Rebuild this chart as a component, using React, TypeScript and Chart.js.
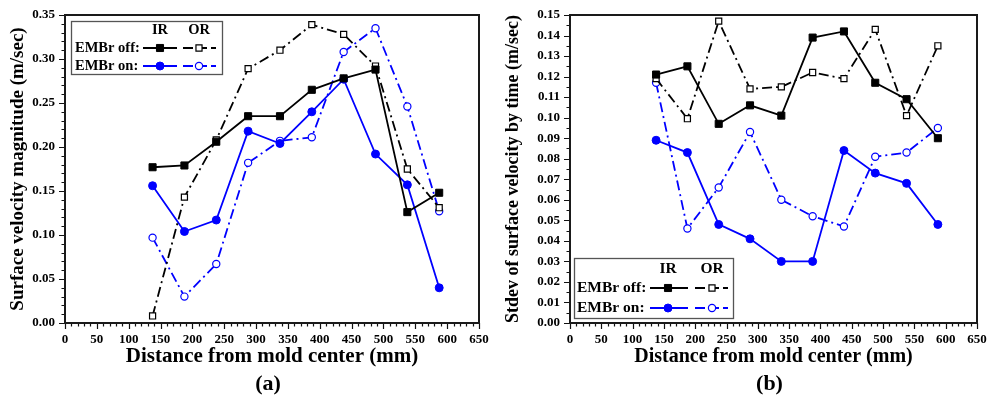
import React, { useEffect, useRef } from 'react';
import { Chart, registerables } from 'chart.js';

Chart.register(...registerables);

// ---------- data ----------
const distance = [137.5, 187.5, 237.5, 287.5, 337.5, 387.5, 437.5, 487.5, 537.5, 587.5];

// (a) Surface velocity magnitude (m/sec)
const velOffIR = [0.177, 0.179, 0.206, 0.235, 0.235, 0.265, 0.278, 0.288, 0.126, 0.148];
const velOffOR = [0.008, 0.143, 0.208, 0.289, 0.310, 0.339, 0.328, 0.292, 0.175, 0.131];
const velOnIR = [0.156, 0.104, 0.117, 0.218, 0.204, 0.240, 0.277, 0.192, 0.157, 0.040];
const velOnOR = [0.097, 0.030, 0.067, 0.182, 0.207, 0.211, 0.308, 0.335, 0.246, 0.127];

// (b) Stdev of surface velocity by time (m/sec)
const sdOffIR = [0.121, 0.125, 0.097, 0.106, 0.101, 0.139, 0.142, 0.117, 0.109, 0.090];
const sdOffOR = [0.119, 0.0995, 0.147, 0.114, 0.115, 0.122, 0.119, 0.143, 0.101, 0.135];
const sdOnIR = [0.089, 0.083, 0.048, 0.041, 0.030, 0.030, 0.084, 0.073, 0.068, 0.048];
const sdOnOR = [0.117, 0.046, 0.066, 0.093, 0.060, 0.052, 0.047, 0.081, 0.083, 0.095];

const legendHeader = ['IR', 'OR'];
const legendRows = ['EMBr off:', 'EMBr on:'];
const xTitle = 'Distance from mold center (mm)';
const yTitleA = 'Surface velocity magnitude (m/sec)';
const yTitleB = 'Stdev of surface velocity by time (m/sec)';

// ---------- styles ----------
const FONT = "'Liberation Serif', 'Times New Roman', Times, serif";
const BLACK = '#000000';
const BLUE = '#0000ff';
const DASHDOT = [10, 4, 2, 4];

function buildDatasets(offIR: number[], offOR: number[], onIR: number[], onOR: number[]) {
  const pts = (arr: number[]) => distance.map((x, i) => ({ x, y: arr[i] }));
  return [
    {
      label: 'EMBr off IR', data: pts(offIR), borderColor: BLACK, borderWidth: 1.8,
      pointStyle: 'rect', pointRadius: 5, pointBackgroundColor: BLACK, pointBorderColor: BLACK,
      pointBorderWidth: 1, tension: 0,
    },
    {
      label: 'EMBr off OR', data: pts(offOR), borderColor: BLACK, borderWidth: 1.8, borderDash: DASHDOT,
      pointStyle: 'rect', pointRadius: 4.3, pointBackgroundColor: '#ffffff', pointBorderColor: BLACK,
      pointBorderWidth: 1.2, tension: 0,
    },
    {
      label: 'EMBr on IR', data: pts(onIR), borderColor: BLUE, borderWidth: 1.8,
      pointStyle: 'circle', pointRadius: 4, pointBackgroundColor: BLUE, pointBorderColor: BLUE,
      pointBorderWidth: 1, tension: 0,
    },
    {
      label: 'EMBr on OR', data: pts(onOR), borderColor: BLUE, borderWidth: 1.8, borderDash: DASHDOT,
      pointStyle: 'circle', pointRadius: 3.6, pointBackgroundColor: '#ffffff', pointBorderColor: BLUE,
      pointBorderWidth: 1.2, tension: 0,
    },
  ];
}

// ---------- plugins ----------
const frameTicks = {
  id: 'frameTicks',
  afterDraw(chart: any, _args: any, opts: any) {
    const { ctx, chartArea, scales } = chart;
    const { left, right, top, bottom } = chartArea;
    const x = scales.x;
    const y = scales.y;
    ctx.save();
    ctx.strokeStyle = '#111111';
    ctx.lineWidth = 1.2;
    const isMajor = (v: number, step: number) => Math.abs(v / step - Math.round(v / step)) < 1e-6;
    ctx.beginPath();
    const nx = Math.round((x.max - x.min) / opts.xMinor);
    for (let i = 0; i <= nx; i++) {
      const v = x.min + i * opts.xMinor;
      const px = Math.round(x.getPixelForValue(v)) + 0.5;
      const len = isMajor(v, opts.xMajor) ? 6 : 3.5;
      ctx.moveTo(px, bottom);
      ctx.lineTo(px, bottom + len);
    }
    const ny = Math.round((y.max - y.min) / opts.yMinor);
    for (let i = 0; i <= ny; i++) {
      const v = y.min + i * opts.yMinor;
      const py = Math.round(y.getPixelForValue(v)) + 0.5;
      const len = isMajor(v, opts.yMajor) ? 6 : 3.5;
      ctx.moveTo(left, py);
      ctx.lineTo(left - len, py);
    }
    ctx.stroke();
    ctx.lineWidth = 2;
    ctx.strokeStyle = '#1a1a1a';
    ctx.strokeRect(left, top, right - left, bottom - top);
    ctx.restore();
  },
};

function drawMarker(ctx: CanvasRenderingContext2D, ds: any, cx: number, cy: number) {
  ctx.save();
  ctx.setLineDash([]);
  ctx.fillStyle = ds.pointBackgroundColor;
  ctx.strokeStyle = ds.pointBorderColor;
  ctx.lineWidth = ds.pointBorderWidth;
  ctx.beginPath();
  if (ds.pointStyle === 'rect') {
    const s = Math.SQRT1_2 * ds.pointRadius;
    ctx.rect(cx - s, cy - s, 2 * s, 2 * s);
  } else {
    ctx.arc(cx, cy, ds.pointRadius, 0, Math.PI * 2);
  }
  ctx.fill();
  ctx.stroke();
  ctx.restore();
}

const tableLegend = {
  id: 'tableLegend',
  afterDraw(chart: any, _args: any, o: any) {
    const { ctx } = chart;
    const ds = chart.data.datasets;
    ctx.save();
    ctx.fillStyle = '#ffffff';
    ctx.fillRect(o.box[0], o.box[1], o.box[2], o.box[3]);
    ctx.strokeStyle = '#555555';
    ctx.lineWidth = 1.3;
    ctx.strokeRect(o.box[0] + 0.5, o.box[1] + 0.5, o.box[2], o.box[3]);
    ctx.fillStyle = '#000000';
    ctx.font = `bold ${o.font}px ${FONT}`;
    ctx.textBaseline = 'middle';
    ctx.textAlign = 'center';
    ctx.fillText(legendHeader[0], o.irX, o.headY);
    ctx.fillText(legendHeader[1], o.orX, o.headY);
    ctx.textAlign = 'left';
    for (let r = 0; r < 2; r++) {
      const yy = o.rowY[r];
      ctx.fillStyle = '#000000';
      ctx.fillText(legendRows[r], o.textX, yy);
      const dIR = ds[r * 2];
      const dOR = ds[r * 2 + 1];
      ctx.strokeStyle = dIR.borderColor;
      ctx.lineWidth = 2;
      ctx.setLineDash([]);
      ctx.beginPath();
      ctx.moveTo(o.irLine[0], yy);
      ctx.lineTo(o.irLine[1], yy);
      ctx.stroke();
      drawMarker(ctx, dIR, o.irX, yy);
      ctx.strokeStyle = dOR.borderColor;
      ctx.setLineDash([10, 4]);
      ctx.lineWidth = 2;
      ctx.beginPath();
      ctx.moveTo(o.orLine[0], yy);
      ctx.lineTo(o.orLine[1], yy);
      ctx.stroke();
      ctx.setLineDash([]);
      drawMarker(ctx, dOR, o.orX, yy);
    }
    ctx.restore();
  },
};

const panelLabel = {
  id: 'panelLabel',
  afterDraw(chart: any, _args: any, o: any) {
    const { ctx, chartArea } = chart;
    ctx.save();
    ctx.fillStyle = '#000000';
    ctx.font = `bold 22px ${FONT}`;
    ctx.textAlign = 'center';
    ctx.textBaseline = 'middle';
    ctx.fillText(o.text, (chartArea.left + chartArea.right) / 2 + o.dx, o.y);
    ctx.restore();
  },
};

type Panel = {
  data: number[][];
  yMax: number;
  yStep: number;
  yMinor: number;
  yTitle: string;
  yTitleSize: number;
  yTitlePad: number;
  xTitleSize: number;
  axisWidth: number;
  rightPad: number;
  legend: any;
  label: string;
};

function makeConfig(p: Panel): any {
  const tickFont = { family: FONT, size: 13, weight: 'bold' as const };
  const xLine = p.xTitleSize * 1.2;
  return {
    type: 'line',
    data: { datasets: buildDatasets(p.data[0], p.data[1], p.data[2], p.data[3]) },
    options: {
      animation: false,
      responsive: false,
      devicePixelRatio: 1,
      layout: { padding: { left: 0, top: 15, right: p.rightPad, bottom: 0 } },
      plugins: {
        legend: { display: false },
        tooltip: { enabled: false },
        frameTicks: { xMinor: 10, xMajor: 50, yMinor: p.yMinor, yMajor: p.yStep },
        tableLegend: p.legend,
        panelLabel: { text: p.label, y: 384, dx: -4 },
      },
      scales: {
        x: {
          type: 'linear',
          min: 0,
          max: 650,
          grid: { display: false, drawTicks: false },
          border: { display: false },
          ticks: { stepSize: 50, padding: 9, color: '#000', font: tickFont, maxRotation: 0, autoSkip: false },
          title: {
            display: true, text: xTitle, color: '#000',
            font: { family: FONT, size: p.xTitleSize, weight: 'bold' },
            padding: { top: 0, bottom: 400 - 357 - xLine / 2 },
          },
          afterFit: (s: any) => { s.height = 77; s.paddingLeft = 0; s.paddingRight = 0; },
        },
        y: {
          type: 'linear',
          min: 0,
          max: p.yMax,
          grid: { display: false, drawTicks: false },
          border: { display: false },
          ticks: {
            stepSize: p.yStep, padding: 10, color: '#000', font: tickFont, autoSkip: false,
            callback: (v: any) => Number(v).toFixed(2),
          },
          title: {
            display: true, text: p.yTitle, color: '#000',
            font: { family: FONT, size: p.yTitleSize, weight: 'bold' },
            padding: { top: p.yTitlePad, bottom: 0 },
          },
          afterFit: (s: any) => { s.width = p.axisWidth; s.paddingTop = 0; s.paddingBottom = 0; },
        },
      },
    },
    plugins: [frameTicks, tableLegend, panelLabel],
  };
}

const panelA: Panel = {
  data: [velOffIR, velOffOR, velOnIR, velOnOR],
  yMax: 0.35, yStep: 0.05, yMinor: 0.01,
  yTitle: yTitleA, yTitleSize: 19, yTitlePad: 7, xTitleSize: 21,
  axisWidth: 65, rightPad: 16,
  legend: {
    box: [71, 21, 151, 53], font: 14.5, headY: 30, irX: 160, orX: 199, textX: 75,
    rowY: [48, 66], irLine: [143, 177], orLine: [183, 216],
  },
  label: '(a)',
};

const panelB: Panel = {
  data: [sdOffIR, sdOffOR, sdOnIR, sdOnOR],
  yMax: 0.15, yStep: 0.01, yMinor: 0.005,
  yTitle: yTitleB, yTitleSize: 18, yTitlePad: 8, xTitleSize: 20,
  axisWidth: 75, rightPad: 14,
  legend: {
    box: [79, 258, 159, 60], font: 15.5, headY: 269, irX: 173, orX: 217, textX: 82,
    rowY: [288, 308], irLine: [155, 193], orLine: [200, 233],
  },
  label: '(b)',
};

export default function App() {
  const refA = useRef<HTMLCanvasElement | null>(null);
  const refB = useRef<HTMLCanvasElement | null>(null);

  useEffect(() => {
    const charts: Chart[] = [];
    if (refA.current) charts.push(new Chart(refA.current, makeConfig(panelA)));
    if (refB.current) charts.push(new Chart(refB.current, makeConfig(panelB)));
    return () => charts.forEach((c) => c.destroy());
  }, []);

  return (
    <div style={{ position: 'absolute', left: 0, top: 0, width: 991, height: 400, background: '#ffffff' }}>
      <canvas ref={refA} width={495} height={400}
        style={{ position: 'absolute', left: 0, top: 0, width: 495, height: 400 }} />
      <canvas ref={refB} width={496} height={400}
        style={{ position: 'absolute', left: 495, top: 0, width: 496, height: 400 }} />
    </div>
  );
}
